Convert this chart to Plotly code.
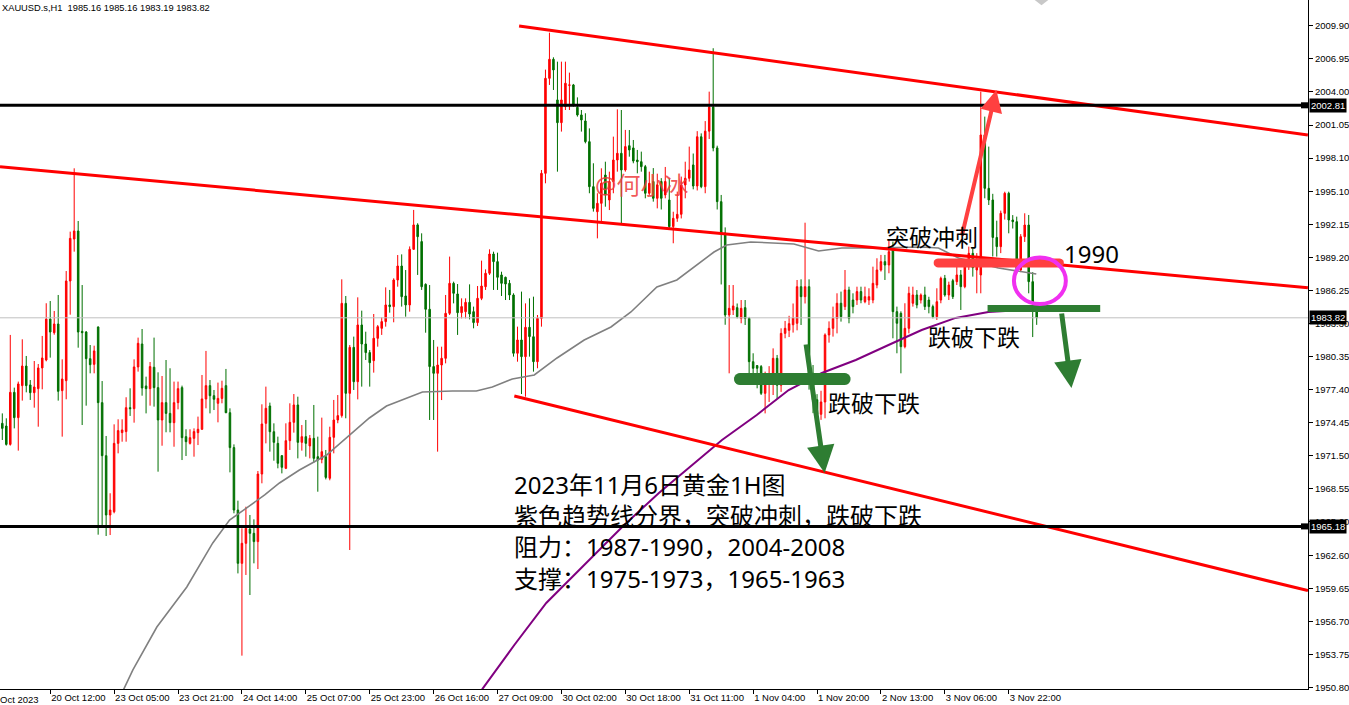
import math
import plotly.graph_objects as go

# ---------------- data ----------------
# bar index 0..259 (H1 bars, 19 Oct late -> 6 Nov morning)
opens = [1974.39,1974.15,1972.51,1977.16,1974.90,1977.76,1979.51,1977.82,1977.13,1977.49,
         1979.34,1980.05,1983.71,1982.49,1983.27,1977.31,1978.20,1987.11,1990.86,1991.58,
         1982.61,1982.55,1980.17,1979.66,1983.00,1976.24,1971.50,1966.20,1966.49,1972.60,
         1973.56,1973.65,1975.79,1975.70,1979.43,1981.48,1977.73,1977.49,1979.40,1977.58,
         1974.69,1976.24,1975.28,1974.45,1976.24,1977.58,1973.20,1972.60,1973.05,1973.56,
         1973.86,1976.57,1977.76,1976.86,1976.18,1976.62,1977.76,1975.34,1972.22,1966.64,
         1961.88,1963.67,1964.95,1964.56,1963.82,1969.86,1974.39,1975.94,1973.64,1972.60,
         1971.50,1970.37,1972.84,1974.48,1976.03,1972.69,1973.20,1972.37,1973.05,1971.41,
         1971.17,1971.41,1969.48,1973.14,1974.69,1975.08,1985.11,1977.07,1981.18,1978.11,
         1983.18,1981.48,1980.71,1979.99,1981.99,1982.88,1983.48,1984.97,1984.82,1987.20,
         1988.45,1985.77,1984.97,1989.94,1992.12,1990.63,1986.81,1984.58,1979.46,1978.86,
         1979.60,1980.20,1984.22,1986.90,1985.95,1984.28,1984.37,1985.20,1984.37,1983.39,
         1985.56,1986.60,1987.80,1989.52,1988.84,1987.65,1987.44,1986.90,1985.86,1980.65,
         1981.84,1980.35,1982.97,1982.13,1979.90,1983.77,1996.73,2005.22,2006.92,2003.29,
         2001.26,2002.69,2004.60,2004.63,2002.63,2001.95,2001.41,1999.56,1995.54,1993.30,
         1994.05,1996.58,1994.35,1995.99,1997.92,1998.52,1997.03,1999.20,1999.00,1997.92,
         1997.77,1997.33,1994.95,1996.00,1994.50,1996.00,1994.80,1994.35,1991.97,1992.71,
         1993.07,1995.69,1996.29,1997.48,1995.60,2000.00,1995.54,2000.50,2002.65,1999.00,
         1994.20,1991.40,1984.07,1984.52,1984.73,1983.77,1984.73,1983.77,1979.90,1979.55,
         1979.46,1977.07,1978.26,1978.40,1980.20,1977.80,1982.43,1982.70,1983.20,1983.33,
         1986.60,1985.71,1986.60,1978.86,1976.50,1975.20,1976.30,1982.29,1982.88,1983.77,
         1985.12,1984.82,1986.31,1985.41,1985.41,1986.16,1985.26,1985.41,1985.41,1986.75,
         1988.09,1988.84,1988.54,1990.03,1984.37,1984.22,1981.24,1982.88,1985.12,1985.86,
         1985.41,1985.86,1985.41,1984.82,1983.92,1985.41,1987.35,1985.86,1987.14,1987.05,
         1987.65,1986.60,1988.39,1989.58,1988.09,1987.65,2000.16,1995.39,1994.35,1991.00,
         1990.18,1993.16,1994.95,1992.56,1992.41,1988.09,1991.07,1992.11,1987.05,1985.16]
highs = [1975.28,1974.84,1982.29,1977.58,1978.12,1981.90,1980.41,1978.26,1979.96,1979.69,
         1982.20,1985.12,1985.32,1984.43,1985.86,1980.11,1988.00,1991.52,1997.18,1992.47,
         1986.75,1982.64,1981.39,1981.33,1983.05,1978.17,1973.26,1968.14,1974.30,1974.75,
         1974.75,1976.72,1977.52,1980.11,1982.05,1982.82,1978.56,1979.87,1982.05,1978.95,
         1978.62,1980.05,1979.31,1978.12,1978.12,1977.76,1973.86,1973.86,1973.94,1974.99,
         1978.71,1980.86,1978.26,1977.37,1978.03,1978.20,1979.25,1975.73,1972.51,1967.48,
         1965.01,1966.94,1966.20,1965.81,1970.13,1976.09,1977.67,1976.24,1974.39,1973.20,
         1971.56,1974.39,1976.18,1977.01,1976.77,1974.24,1974.69,1973.35,1976.03,1973.20,
         1974.90,1972.01,1974.09,1976.48,1976.92,1987.26,1985.77,1981.39,1982.14,1985.65,
         1984.46,1982.58,1980.94,1984.16,1983.18,1983.86,1986.54,1986.31,1987.35,1989.43,
         1989.49,1988.09,1990.20,1993.46,1992.27,1991.37,1986.90,1986.75,1981.84,1981.24,
         1981.24,1985.86,1989.29,1987.05,1986.84,1985.56,1985.56,1986.81,1984.82,1986.66,
         1988.93,1988.15,1989.94,1989.73,1989.64,1987.94,1987.50,1987.20,1986.01,1983.03,
         1986.16,1985.11,1985.56,1985.71,1984.07,1997.03,2006.00,2009.30,2007.10,2006.71,
         2006.71,2006.71,2005.73,2004.72,2003.52,2002.39,2002.10,2000.75,1997.63,1994.95,
         1997.18,1997.77,1996.88,2000.01,2002.45,2002.39,2000.61,2000.60,1999.71,1998.82,
         1998.67,1997.48,1996.88,1997.20,1996.70,1996.30,1997.30,1996.30,1993.30,1995.10,
         1996.44,1997.77,1999.12,1998.50,2000.50,2000.30,2001.40,2004.03,2007.91,1999.20,
         1994.80,1991.90,1986.75,1986.75,1985.10,1985.41,1985.41,1983.90,1980.65,1979.60,
         1979.60,1979.01,1979.50,1981.09,1980.50,1982.88,1983.54,1984.00,1985.10,1987.20,
         1987.26,1992.32,1987.26,1979.60,1977.00,1977.30,1982.43,1983.50,1984.82,1986.01,
         1986.16,1988.09,1986.60,1986.01,1986.60,1986.60,1986.60,1986.46,1988.39,1989.14,
         1989.44,1989.44,1990.77,1990.63,1984.82,1984.40,1985.12,1986.60,1986.60,1986.30,
         1986.00,1986.60,1985.70,1985.00,1986.46,1987.50,1987.65,1987.05,1987.30,1988.39,
         1988.09,1988.84,1990.18,1990.00,1989.60,2004.03,2001.80,1999.12,1994.90,1992.50,
         1993.40,1995.09,1995.09,1993.00,1992.86,1991.30,1993.16,1993.01,1987.90,1985.16]
lows = [1972.90,1972.40,1972.40,1973.94,1971.95,1976.42,1977.16,1976.48,1975.79,1974.09,
        1977.43,1979.93,1980.26,1982.31,1976.42,1973.20,1976.54,1984.10,1989.73,1981.15,
        1974.24,1975.97,1978.86,1978.86,1964.44,1965.16,1964.32,1964.41,1966.35,1971.71,
        1972.75,1972.75,1975.05,1974.45,1979.01,1976.86,1975.28,1975.97,1975.88,1970.07,
        1972.39,1973.59,1973.59,1972.30,1975.64,1971.11,1971.47,1972.50,1971.41,1972.45,
        1973.80,1975.73,1975.28,1975.58,1974.48,1976.18,1975.30,1970.01,1966.35,1960.98,
        1953.63,1960.84,1959.05,1961.88,1961.37,1969.03,1972.60,1971.86,1971.05,1970.37,
        1969.92,1970.30,1972.01,1973.56,1971.26,1971.95,1971.41,1971.26,1970.87,1968.28,
        1970.82,1969.38,1969.30,1971.71,1974.40,1974.90,1974.84,1963.07,1977.37,1976.53,
        1977.67,1980.05,1977.67,1978.92,1981.24,1982.29,1983.03,1984.28,1983.42,1986.60,
        1984.82,1983.92,1984.37,1989.90,1987.65,1986.31,1982.49,1974.69,1974.69,1971.86,
        1976.47,1979.75,1984.07,1985.11,1982.29,1983.77,1983.77,1983.68,1982.88,1983.09,
        1985.40,1986.31,1987.65,1986.31,1986.31,1985.77,1985.41,1985.41,1980.35,1979.90,
        1977.01,1976.77,1980.35,1979.01,1979.31,1983.03,1995.84,2004.63,2004.18,1996.88,
        2000.46,2002.39,2002.39,2002.69,2001.80,2000.46,1999.41,1994.95,1993.31,1990.92,
        1992.41,1993.75,1993.45,1994.95,1996.88,1992.12,1996.88,1998.22,1997.63,1996.73,
        1996.88,1994.50,1994.80,1994.20,1993.60,1993.50,1994.50,1991.67,1990.48,1992.40,
        1992.70,1994.50,1995.99,1995.30,1995.20,1995.40,1994.95,1999.80,1998.70,1993.50,
        1986.80,1983.20,1978.86,1984.07,1983.77,1983.33,1983.18,1978.41,1978.26,1977.52,
        1976.92,1975.28,1976.30,1976.92,1976.60,1977.20,1981.99,1982.10,1982.50,1982.70,
        1983.18,1985.10,1977.40,1975.30,1974.50,1974.70,1974.84,1981.60,1982.14,1982.43,
        1983.48,1984.52,1983.33,1984.22,1984.97,1985.12,1985.12,1984.97,1985.12,1986.46,
        1987.95,1987.20,1987.80,1981.99,1980.65,1978.86,1981.09,1982.43,1984.82,1984.67,
        1985.10,1984.52,1984.22,1983.77,1983.63,1985.12,1985.71,1985.41,1985.50,1986.75,
        1984.52,1986.46,1988.10,1987.50,1986.01,1986.01,1994.50,1993.90,1989.30,1989.29,
        1989.60,1992.60,1991.37,1991.80,1987.80,1987.90,1990.60,1986.01,1982.10,1983.19]
closes = [1973.94,1972.51,1977.16,1974.90,1977.91,1979.51,1977.76,1977.13,1977.64,1979.34,
          1980.23,1983.71,1982.55,1983.27,1977.25,1978.35,1987.11,1990.92,1991.58,1982.55,
          1982.49,1980.17,1979.63,1980.86,1976.24,1971.50,1966.20,1966.64,1972.60,1973.74,
          1973.80,1975.79,1975.70,1979.43,1981.54,1977.55,1977.49,1979.46,1977.58,1974.69,
          1976.24,1975.28,1974.45,1976.24,1977.49,1973.11,1972.75,1973.11,1973.65,1973.86,
          1976.57,1977.76,1976.86,1976.54,1976.62,1977.52,1975.34,1972.22,1966.64,1961.88,
          1963.67,1965.01,1964.56,1963.82,1969.86,1974.33,1975.73,1973.64,1972.69,1970.82,
          1970.46,1972.84,1974.48,1976.03,1972.69,1973.20,1972.60,1973.05,1971.26,1971.11,
          1971.86,1969.56,1973.14,1974.69,1975.08,1985.11,1977.07,1981.18,1978.11,1983.18,
          1981.48,1980.71,1979.81,1981.99,1983.03,1983.48,1984.97,1984.82,1987.20,1988.45,
          1985.71,1984.97,1989.94,1992.12,1991.07,1986.60,1984.58,1979.46,1978.86,1979.60,
          1980.20,1984.22,1986.90,1986.01,1984.28,1984.82,1985.20,1984.16,1983.39,1985.56,
          1986.66,1987.80,1989.52,1988.84,1987.44,1986.90,1986.84,1985.86,1980.65,1981.84,
          1980.35,1982.97,1982.14,1979.90,1983.77,1996.73,2005.22,2006.92,2005.97,2001.26,
          2003.29,2004.78,2004.63,2002.84,2001.95,2001.50,1999.56,1995.54,1993.60,1994.05,
          1995.84,1994.80,1995.99,1997.92,1998.52,1997.03,1999.12,1998.82,1997.83,1997.77,
          1997.33,1994.95,1995.84,1994.50,1995.70,1994.50,1996.00,1991.97,1992.71,1993.07,
          1995.69,1996.29,1997.03,1995.60,2000.00,1995.54,2000.50,2002.65,1999.00,1994.20,
          1991.40,1984.07,1984.67,1984.88,1983.92,1984.67,1983.77,1979.90,1979.31,1979.31,
          1977.07,1978.26,1978.70,1980.20,1977.80,1982.43,1982.88,1983.30,1983.80,1986.60,
          1985.71,1986.60,1978.86,1976.50,1975.20,1976.30,1982.29,1982.88,1983.77,1985.12,
          1983.92,1986.31,1983.77,1984.82,1986.16,1985.41,1985.71,1985.71,1986.90,1988.09,
          1988.84,1988.54,1989.73,1984.37,1983.33,1981.24,1982.88,1986.01,1985.86,1984.97,
          1985.86,1984.82,1984.82,1983.92,1985.26,1987.35,1985.86,1986.75,1985.71,1987.65,
          1986.60,1988.39,1989.58,1988.30,1988.54,2000.16,1995.39,1994.35,1991.00,1990.18,
          1993.16,1994.95,1992.56,1992.41,1988.09,1991.07,1992.11,1987.05,1985.16,1983.82]
bars = list(range(len(closes)))

# moving averages (read at sampled bars)
ma_gray_bar = [28.5,30.4,32.7,38.7,46.2,52.7,56.9,61.2,65.7,69.4,74.4,81.2,86.9,91.9,96.2,101.2,
               105.2,112.7,118.7,122.7,127.7,133.2,138.9,145.7,152.4,157.4,163.9,168.9,173.9,
               178.2,181.4,187.4,198.2,204.4,210.2,217.7,230.2,234.4,239.4,249.4,258.9]
ma_gray_val = [1949.2,1950.65,1952.35,1956.19,1959.77,1963.70,1965.75,1966.83,1968.0,1969.06,
               1970.22,1971.56,1973.35,1974.87,1975.94,1976.66,1977.19,1977.28,1977.28,1977.64,
               1978.35,1978.71,1980.23,1981.84,1983.0,1984.34,1986.58,1987.20,1988.54,1989.70,
               1990.33,1990.60,1990.42,1989.79,1990.06,1990.06,1990.15,1990.06,1989.17,1988.27,
               1987.74]
ma_purple_bar = [118.9,120.2,128.2,136.2,147.7,155.2,164.4,173.7,180.2,188.9,196.9,205.2,213.7,
                 221.9,230.2,238.7,246.9,255.2,258.9]
ma_purple_val = [1949.2,1950.65,1954.58,1958.34,1962.45,1965.13,1968.17,1970.94,1972.90,1975.14,
                 1977.37,1978.89,1980.05,1981.39,1982.73,1983.81,1984.34,1984.52,1984.61]

# trend lines: (bar, price) end points
trend_upper = [(129.4, 2009.90), (326.9, 2000.16)]
trend_middle = [(-0.575, 1997.33), (326.9, 1986.50)]
trend_lower = [(128.2, 1976.84), (326.9, 1959.44)]
level_resist = 2002.81
level_support = 1965.18
last_price = 1983.82

x_tick_bars = [12, 28, 44, 60, 76, 92, 108, 124, 140, 156, 172, 188, 204, 220, 236, 252]
x_tick_labels = ["20 Oct 12:00", "23 Oct 05:00", "23 Oct 21:00", "24 Oct 14:00", "25 Oct 07:00",
                 "25 Oct 23:00", "26 Oct 16:00", "27 Oct 09:00", "30 Oct 02:00", "30 Oct 18:00",
                 "31 Oct 11:00", "1 Nov 04:00", "1 Nov 20:00", "2 Nov 13:00", "3 Nov 06:00",
                 "3 Nov 22:00"]
y_tick_vals = [1950.80, 1953.75, 1956.70, 1959.65, 1962.60, 1965.60, 1968.55, 1971.50, 1974.45,
               1977.40, 1980.35, 1983.30, 1986.25, 1989.20, 1992.15, 1995.10, 1998.10, 2001.05,
               2004.00, 2006.95, 2009.90]
y_tick_text = [f"{v:.2f}" for v in y_tick_vals]

# ---------------- geometry helpers ----------------
X_RANGE = [-0.575, 326.93]
Y_RANGE = [1950.65, 2012.22]
PLOT_W, PLOT_H = 1310, 689
PX_K = PLOT_W / (X_RANGE[1] - X_RANGE[0])
PX_P = PLOT_H / (Y_RANGE[1] - Y_RANGE[0])

def pill(k0, k1, price, thick, n=10):
    dk = thick / 2 / PX_K
    dp = thick / 2 / PX_P
    pts = []
    for i in range(n + 1):
        a = math.pi / 2 - math.pi * i / n
        pts.append((k1 - dk + dk * math.cos(a), price + dp * math.sin(a)))
    for i in range(n + 1):
        a = -math.pi / 2 - math.pi * i / n
        pts.append((k0 + dk + dk * math.cos(a), price + dp * math.sin(a)))
    return "M " + " L ".join(f"{x:.3f},{y:.3f}" for x, y in pts) + " Z"

RED = "#ff0000"
GREEN = "#007000"

fig = go.Figure()
fig.add_trace(go.Candlestick(
    x=bars, open=opens, high=highs, low=lows, close=closes,
    increasing=dict(line=dict(color=RED, width=1), fillcolor=RED),
    decreasing=dict(line=dict(color=GREEN, width=1), fillcolor=GREEN),
    whiskerwidth=0, hoverinfo="skip", showlegend=False))
fig.add_trace(go.Scatter(x=ma_gray_bar, y=ma_gray_val, mode="lines",
                         line=dict(color="#808080", width=1.6), hoverinfo="skip", showlegend=False))
fig.add_trace(go.Scatter(x=ma_purple_bar, y=ma_purple_val, mode="lines",
                         line=dict(color="#800080", width=2), hoverinfo="skip", showlegend=False))

shapes = []
for (a, b) in [trend_upper, trend_middle, trend_lower]:
    shapes.append(dict(type="line", xref="x", yref="y", x0=a[0], y0=a[1], x1=b[0], y1=b[1],
                       line=dict(color="#ff0000", width=3)))
shapes.append(dict(type="line", xref="paper", yref="y", x0=0, x1=1, y0=last_price, y1=last_price,
                   line=dict(color="#c0c0c0", width=1)))
for lv in [level_resist, level_support]:
    shapes.append(dict(type="line", xref="paper", yref="y", x0=0, x1=1, y0=lv, y1=lv,
                       line=dict(color="#000000", width=3)))
    shapes.append(dict(type="rect", xref="paper", yref="y", x0=1303 / 1310, x1=1.0,
                       y0=lv - 0.27, y1=lv + 0.27, fillcolor="#000000", line=dict(width=0)))
# highlight bars
shapes.append(dict(type="path", xref="x", yref="y", path=pill(233.2, 265.8, 1988.72, 9),
                   fillcolor="#ff4040", line=dict(width=0)))
shapes.append(dict(type="path", xref="x", yref="y", path=pill(183.2, 212.4, 1978.35, 12),
                   fillcolor="#2e7d32", line=dict(width=0)))
shapes.append(dict(type="rect", xref="x", yref="y", x0=246.7, x1=274.9,
                   y0=1984.65 - 3.5 / PX_P, y1=1984.65 + 3.5 / PX_P,
                   fillcolor="#2e7d32", line=dict(width=0)))
shapes.append(dict(type="circle", xref="x", yref="y", x0=253.3, x1=266.3, y0=1985.05, y1=1989.2,
                   line=dict(color="#f030f0", width=4)))
# MT4 chart-shift marker
shapes.append(dict(type="path", xref="x", yref="y",
                   path="M 258.5,2012.22 L 261.9,2012.22 L 260.2,2011.75 Z",
                   fillcolor="#c8c8c8", line=dict(width=0)))

TXT = "Noto Sans, Noto Sans CJK SC, sans-serif"
ann = []
def arrow(x, y, ax, ay, color, width):
    ann.append(dict(x=x, y=y, ax=ax, ay=ay, xref="x", yref="y", axref="x", ayref="y",
                    text="", showarrow=True, arrowhead=2, arrowsize=1.1, arrowwidth=width,
                    arrowcolor=color, standoff=0))
arrow(248.9, 2004.18, 240.2, 1991.04, "#ff4040", 4)
arrow(205.9, 1969.95, 201.2, 1981.57, "#2e7d32", 5)
arrow(267.7, 1977.55, 265.2, 1984.34, "#2e7d32", 5)

def label(x, y, text, size=23, color="#000000", xanchor="center"):
    ann.append(dict(x=x, y=y, xref="x", yref="y", text=text, showarrow=False,
                    xanchor=xanchor, yanchor="middle", align="left",
                    font=dict(family=TXT, size=size, color=color)))
label(232.9, 1991.0, "突破冲刺")
label(272.7, 1989.53, "1990", size=24)
label(243.3, 1982.11, "跌破下跌")
label(218.2, 1976.21, "跌破下跌")
label(160.2, 1995.69, "@何小冰", size=24, color="rgba(238,60,60,0.85)")
label(127.7, 1964.75,
      "2023年11月6日黄金1H图<br>紫色趋势线分界，突破冲刺，跌破下跌<br>阻力：1987-1990，2004-2008<br>支撑：1975-1973，1965-1963",
      size=24, xanchor="left")

AX_FONT = dict(family="Liberation Sans, Arial, sans-serif", size=9.5, color="#000000")
for lv, txt in [(level_resist, "2002.81"), (last_price, "1983.82"), (level_support, "1965.18")]:
    ann.append(dict(x=1, y=lv, xref="paper", yref="y", text=txt, showarrow=False,
                    xanchor="left", yanchor="middle", xshift=1, bgcolor="#000000", borderpad=1,
                    font=dict(family=AX_FONT["family"], size=9.5, color="#ffffff")))
ann.append(dict(x=0, y=0, xref="paper", yref="paper", text="Oct 2023", showarrow=False,
                xanchor="left", yanchor="top", yshift=-3, xshift=-2, font=AX_FONT))
ann.append(dict(x=0, y=1, xref="paper", yref="paper",
                text="XAUUSD.s,H1  1985.16 1985.16 1983.19 1983.82", showarrow=False,
                xanchor="left", yanchor="top", xshift=0, yshift=-1,
                font=dict(family=AX_FONT["family"], size=9.3, color="#000000")))

fig.update_layout(
    width=1349, height=705,
    margin=dict(l=0, r=39, t=0, b=16, pad=0),
    paper_bgcolor="#ffffff", plot_bgcolor="#ffffff",
    showlegend=False, hovermode=False, boxgap=0.45,
    shapes=shapes, annotations=ann,
    xaxis=dict(range=X_RANGE, tickvals=x_tick_bars, ticktext=x_tick_labels,
               ticks="outside", ticklen=4, tickcolor="#000000",
               ticklabelposition="outside right", tickfont=AX_FONT,
               showline=True, linecolor="#000000", linewidth=1,
               showgrid=False, zeroline=False, rangeslider=dict(visible=False), fixedrange=True),
    yaxis=dict(range=Y_RANGE, side="right", tickvals=y_tick_vals, ticktext=y_tick_text,
               ticks="outside", ticklen=4, tickcolor="#000000", tickfont=AX_FONT,
               showline=True, linecolor="#000000", linewidth=1,
               showgrid=False, zeroline=False, fixedrange=True),
)

fig.write_html("out.html", config={"displayModeBar": False},
               post_script="document.body.style.margin='0';document.body.style.overflow='hidden';")
